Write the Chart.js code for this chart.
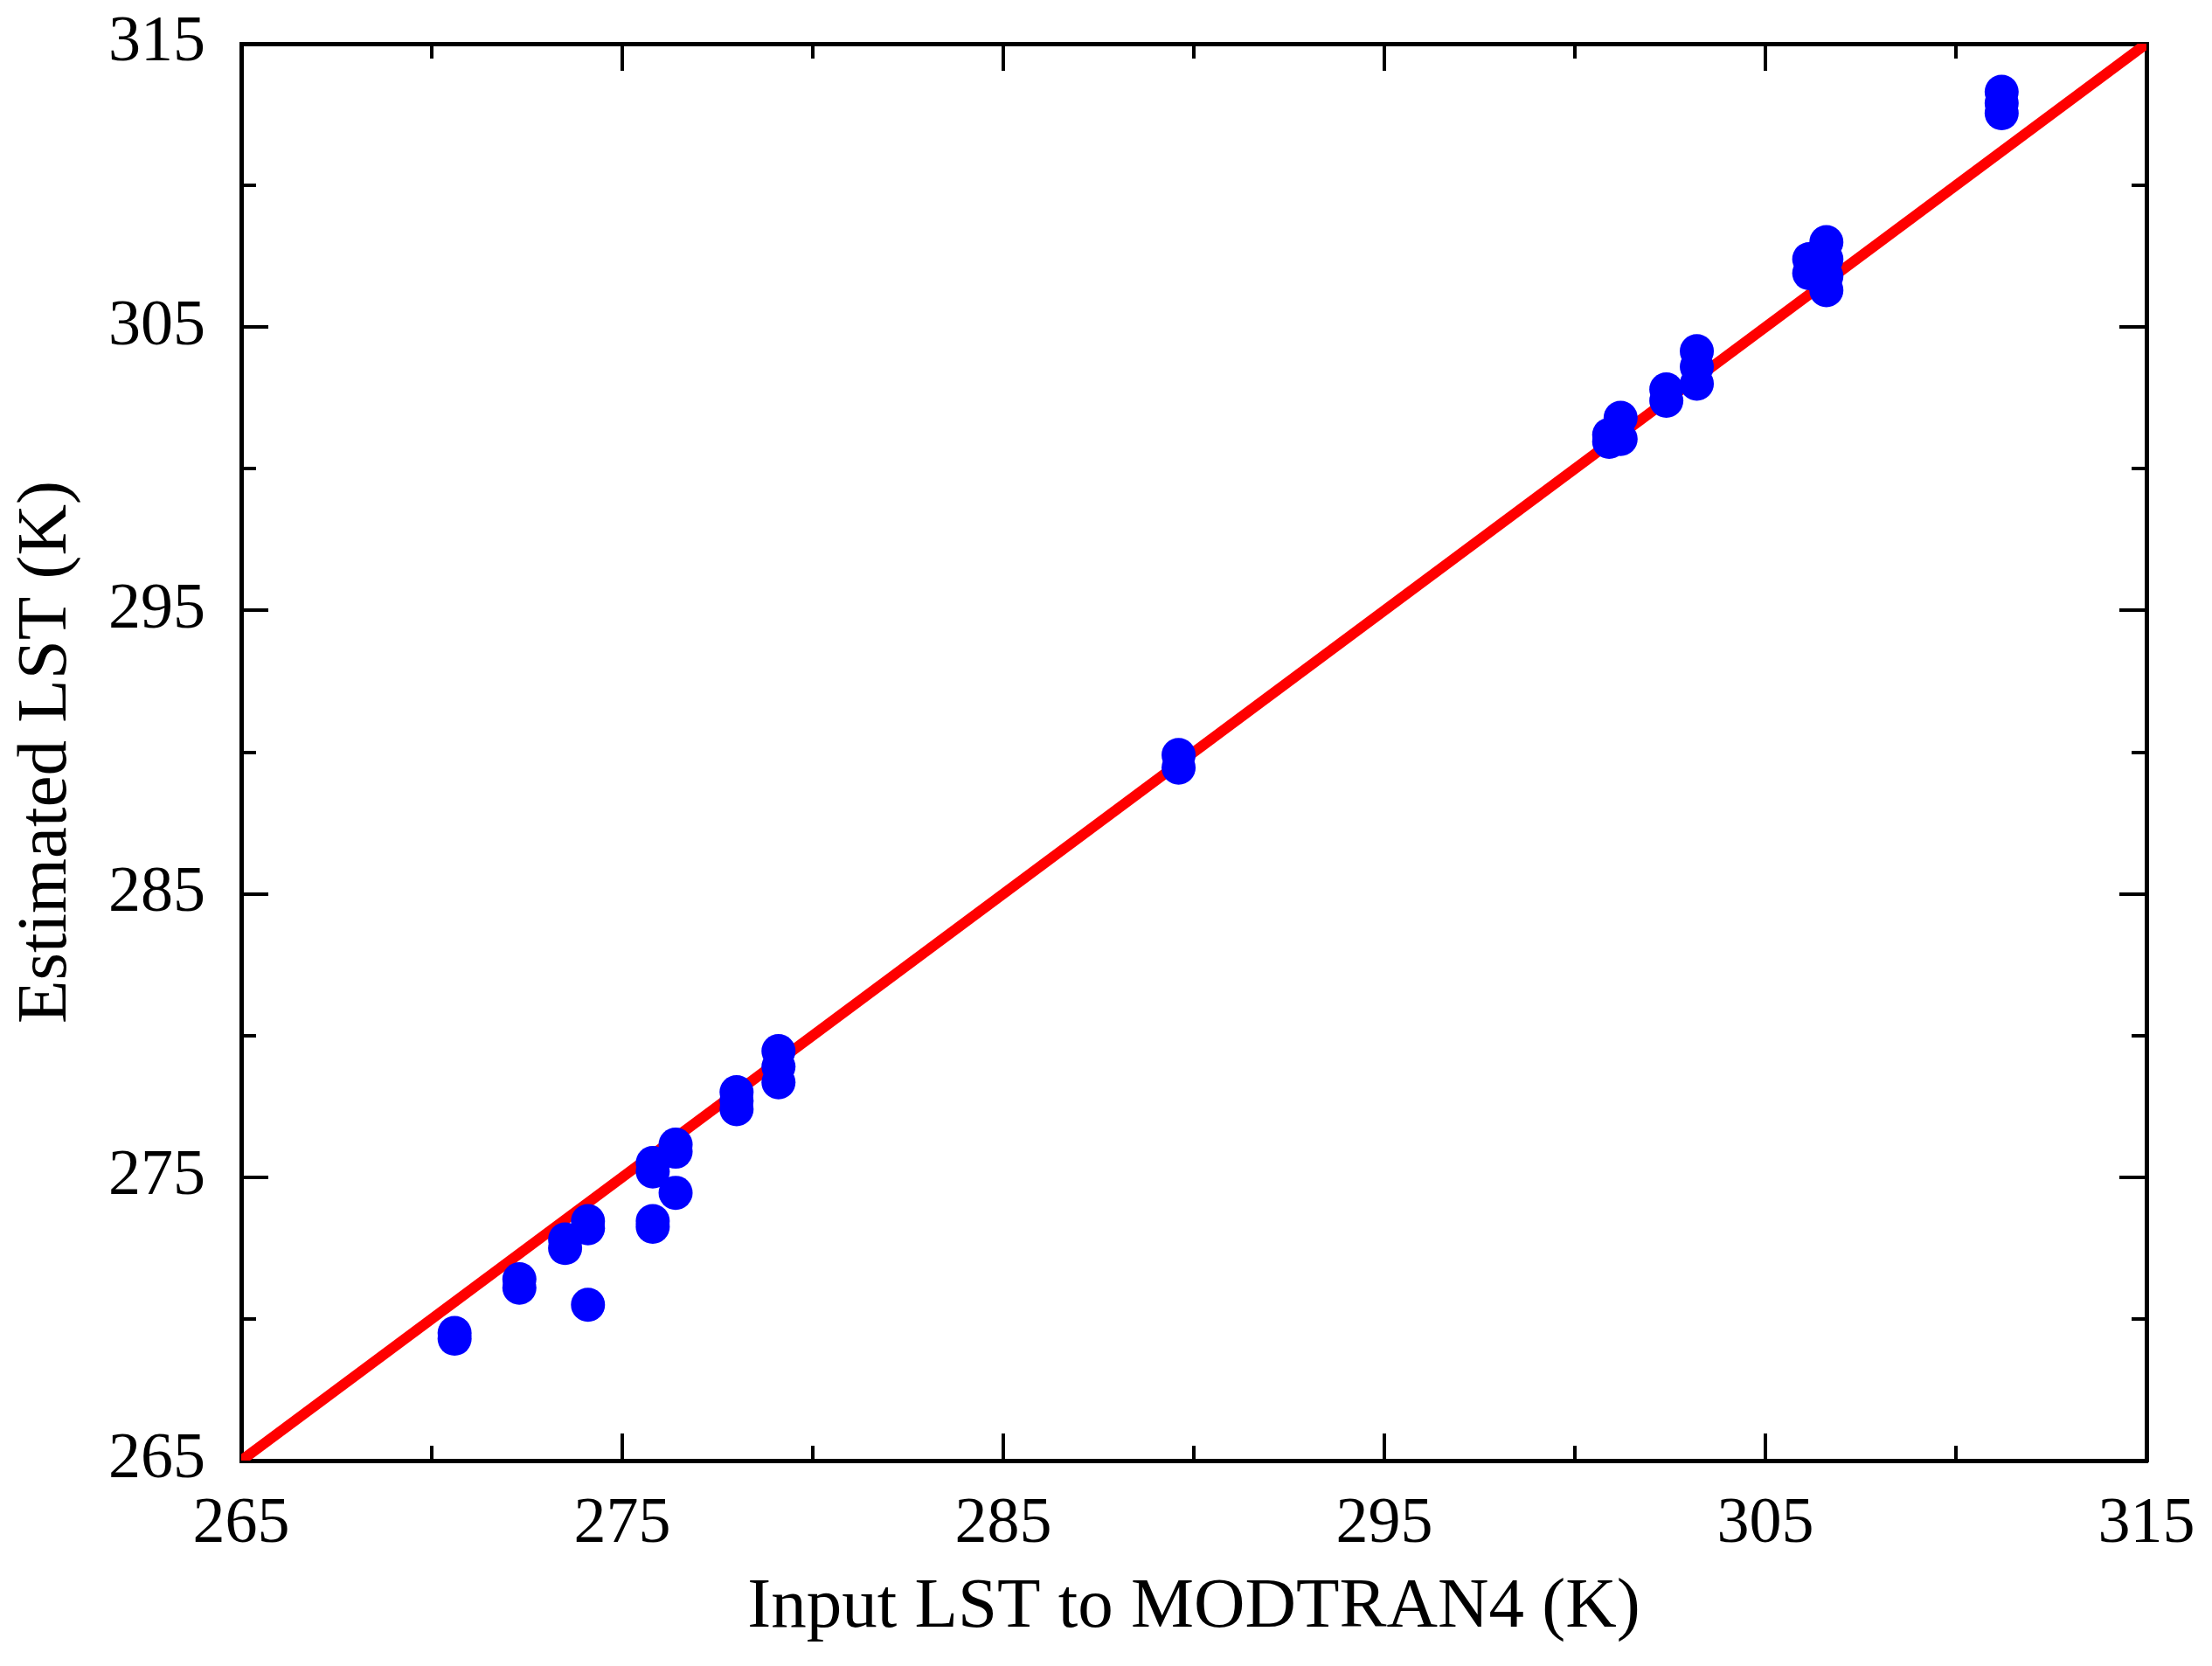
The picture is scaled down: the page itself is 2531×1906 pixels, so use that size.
<!DOCTYPE html>
<html>
<head>
<meta charset="utf-8">
<script src="https://cdn.jsdelivr.net/npm/chart.js@4.4.0/dist/chart.umd.min.js"></script>
<style>
  html, body { margin: 0; padding: 0; background: #ffffff; }
  #wrap { width: 2531px; height: 1906px; }
</style>
</head>
<body>
<div id="wrap"><canvas id="c" width="2531" height="1906"></canvas></div>
<script>
// Input LST to MODTRAN4 (K)
const inputLST = [
  270.6, 270.6,
  272.3, 272.3,
  273.5, 273.5,
  274.1, 274.1, 274.1,
  275.8, 275.8, 275.8, 275.8,
  276.4, 276.4, 276.4,
  278.0, 278.0, 278.0,
  279.1, 279.1, 279.1,
  289.6, 289.6,
  300.9, 300.9,
  301.2, 301.2,
  302.4, 302.4,
  303.2, 303.2, 303.2,
  306.15, 306.15,
  306.6, 306.6, 306.6, 306.6,
  311.2, 311.2, 311.2
];
// Estimated LST (K)
const estimatedLST = [
  269.5, 269.3,
  271.4, 271.1,
  272.8, 272.5,
  273.45, 273.2, 270.5,
  275.5, 275.2, 273.45, 273.25,
  276.15, 275.9, 274.45,
  278.0, 277.7, 277.4,
  279.45, 278.9, 278.35,
  289.9, 289.45,
  301.2, 300.95,
  301.8, 301.05,
  302.8, 302.4,
  304.15, 303.6, 303.0,
  307.4, 306.9,
  308.0, 307.4, 306.8, 306.3,
  313.3, 312.9, 312.55
];
// 1:1 line endpoints
const lineX = [265, 315];
const lineY = [265, 315];

const axisMin = 265;
const axisMax = 315;
const majorStep = 10;
const minorStep = 5;

const xTitle = 'Input LST to MODTRAN4 (K)';
const yTitle = 'Estimated LST (K)';

const scatterData = inputLST.map((x, i) => ({ x: x, y: estimatedLST[i] }));
const lineData = lineX.map((x, i) => ({ x: x, y: lineY[i] }));

const FONT = '"Liberation Serif", "Times New Roman", serif';
const tickFont = { family: FONT, size: 74, lineHeight: 1 };
const titleFont = { family: FONT, size: 81, lineHeight: 1 };

function zeroPad(s) {
  s.paddingLeft = 0; s.paddingRight = 0; s.paddingTop = 0; s.paddingBottom = 0;
}
function fixW(w) { return function (s) { s.width = w; zeroPad(s); }; }
function fixH(h) { return function (s) { s.height = h; zeroPad(s); }; }

function mkAxis(axis, position, step, tickLen, weight, showLabels, size, title) {
  const o = {
    type: 'linear',
    position: position,
    axis: axis,
    min: axisMin,
    max: axisMax,
    weight: weight,
    grid: {
      display: true,
      drawOnChartArea: false,
      drawTicks: true,
      tickLength: tickLen,
      tickColor: '#000000',
      tickWidth: 4,
      color: '#000000',
      lineWidth: 4
    },
    border: { display: true, color: '#000000', width: 5 },
    ticks: {
      display: showLabels,
      stepSize: step,
      maxTicksLimit: 30,
      color: '#000000',
      font: tickFont,
      padding: (axis === 'y') ? 72 : 68,
      maxRotation: 0,
      minRotation: 0,
      callback: (v) => String(v)
    },
    afterFit: (axis === 'y') ? fixW(size) : fixH(size)
  };
  if (title) {
    o.title = {
      display: true,
      text: title,
      color: '#000000',
      font: titleFont,
      padding: (axis === 'y') ? { top: 13, bottom: 0 } : { top: 0, bottom: 26 }
    };
  }
  return o;
}

new Chart(document.getElementById('c'), {
  data: {
    datasets: [
      {
        type: 'scatter',
        label: 'LST',
        data: scatterData,
        xAxisID: 'x',
        yAxisID: 'y',
        backgroundColor: '#0000ff',
        borderColor: '#0000ff',
        borderWidth: 0,
        pointRadius: 19.5,
        pointHoverRadius: 19.5,
        pointStyle: 'circle'
      },
      {
        type: 'line',
        label: '1:1',
        data: lineData,
        xAxisID: 'x',
        yAxisID: 'y',
        borderColor: '#ff0000',
        borderWidth: 12,
        pointRadius: 0,
        fill: false,
        tension: 0
      }
    ]
  },
  options: {
    responsive: false,
    devicePixelRatio: 1,
    animation: false,
    events: [],
    layout: { padding: { left: 0, right: 75, top: 50, bottom: 0 } },
    plugins: {
      legend: { display: false },
      tooltip: { enabled: false },
      title: { display: false }
    },
    scales: {
      x: mkAxis('x', 'bottom', majorStep, -31, 1, true, 235, xTitle),
      xMinor: mkAxis('x', 'bottom', minorStep, -17, 0, false, 0, null),
      xTop: mkAxis('x', 'top', majorStep, -31, 0, false, 0, null),
      xTopMinor: mkAxis('x', 'top', minorStep, -17, 1, false, 0, null),
      y: mkAxis('y', 'left', majorStep, -31, 1, true, 276, yTitle),
      yMinor: mkAxis('y', 'left', minorStep, -17, 0, false, 0, null),
      yRight: mkAxis('y', 'right', majorStep, -31, 0, false, 0, null),
      yRightMinor: mkAxis('y', 'right', minorStep, -17, 1, false, 0, null)
    }
  }
});
</script>
</body>
</html>
